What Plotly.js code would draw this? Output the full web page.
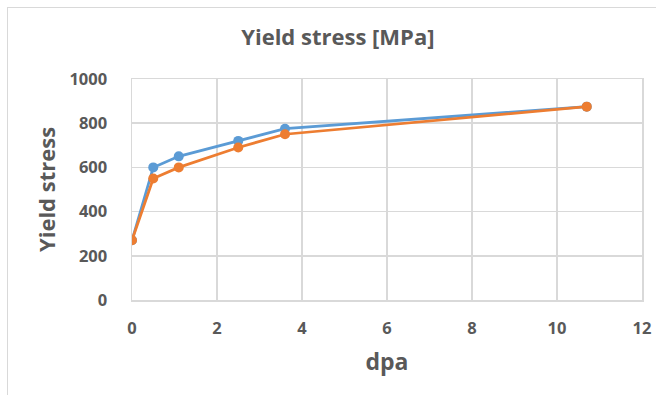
<!DOCTYPE html>
<html>
<head>
<meta charset="utf-8">
<script src="https://cdn.plot.ly/plotly-3.0.1.min.js"></script>
<style>
  html, body { margin: 0; padding: 0; background: #ffffff; }
  #frame { position: absolute; left: 7px; top: 7px; width: 700px; height: 420px;
           border-left: 1px solid #d9d9d9; border-top: 1px solid #d9d9d9; }
  #chart { position: absolute; left: 0; top: 0; width: 656px; height: 395px; }
</style>
</head>
<body>
<div id="frame"></div>
<div id="chart"></div>
<script>
// Irradiation dose (dpa) and measured yield stress (MPa) for two series
const dpa = [0, 0.5, 1.1, 2.5, 3.6, 10.7];
const yieldBlue = [270, 600, 650, 720, 775, 875];
const yieldOrange = [270, 550, 600, 690, 750, 875];

const xTicks = [0, 2, 4, 6, 8, 10, 12];
const yTicks = [0, 200, 400, 600, 800, 1000];

const textColor = '#595959';
const gridColor = '#d9d9d9';
const fontFamily = '"Open Sans", "Noto Sans", sans-serif';

const traces = [
  {
    x: dpa, y: yieldBlue, type: 'scatter', mode: 'lines+markers',
    line: { color: '#5B9BD5', width: 2.75 },
    marker: { color: '#5B9BD5', size: 10 },
    name: 'Series 1'
  },
  {
    x: dpa, y: yieldOrange, type: 'scatter', mode: 'lines+markers',
    line: { color: '#ED7D31', width: 2.75 },
    marker: { color: '#ED7D31', size: 10 },
    name: 'Series 2'
  }
];

const layout = {
  width: 656, height: 395,
  paper_bgcolor: 'rgba(0,0,0,0)', plot_bgcolor: '#ffffff',
  margin: { l: 132, r: 14, t: 79, b: 95 },
  showlegend: false,
  font: { family: fontFamily, color: textColor },
  title: {
    text: 'Yield stress [MPa]',
    font: { size: 22, weight: 'bold', color: textColor, family: fontFamily },
    x: 0.515, xanchor: 'center', y: 0.905, yanchor: 'middle'
  },
  xaxis: {
    range: [0, 12], tickvals: xTicks, ticktext: xTicks.map(String),
    showgrid: true, gridcolor: gridColor, gridwidth: 1.5,
    zeroline: false, showline: true, linecolor: gridColor, linewidth: 1.5, mirror: true,
    ticks: '', ticklabelstandoff: 13,
    tickfont: { size: 16.5, weight: 'bold', color: textColor },
    title: { text: 'dpa', standoff: 15, font: { size: 23, weight: 'bold', color: textColor } }
  },
  yaxis: {
    range: [0, 1000], tickvals: yTicks, ticktext: yTicks.map(String),
    showgrid: true, gridcolor: gridColor, gridwidth: 1.5,
    zeroline: false, showline: true, linecolor: gridColor, linewidth: 1.5, mirror: true,
    ticks: '', ticklabelstandoff: 20,
    tickfont: { size: 16.5, weight: 'bold', color: textColor },
    title: { text: 'Yield stress', standoff: 8, font: { size: 22, weight: 'bold', color: textColor } }
  }
};

Plotly.newPlot('chart', traces, layout, { displayModeBar: false, staticPlot: true });
</script>
</body>
</html>
